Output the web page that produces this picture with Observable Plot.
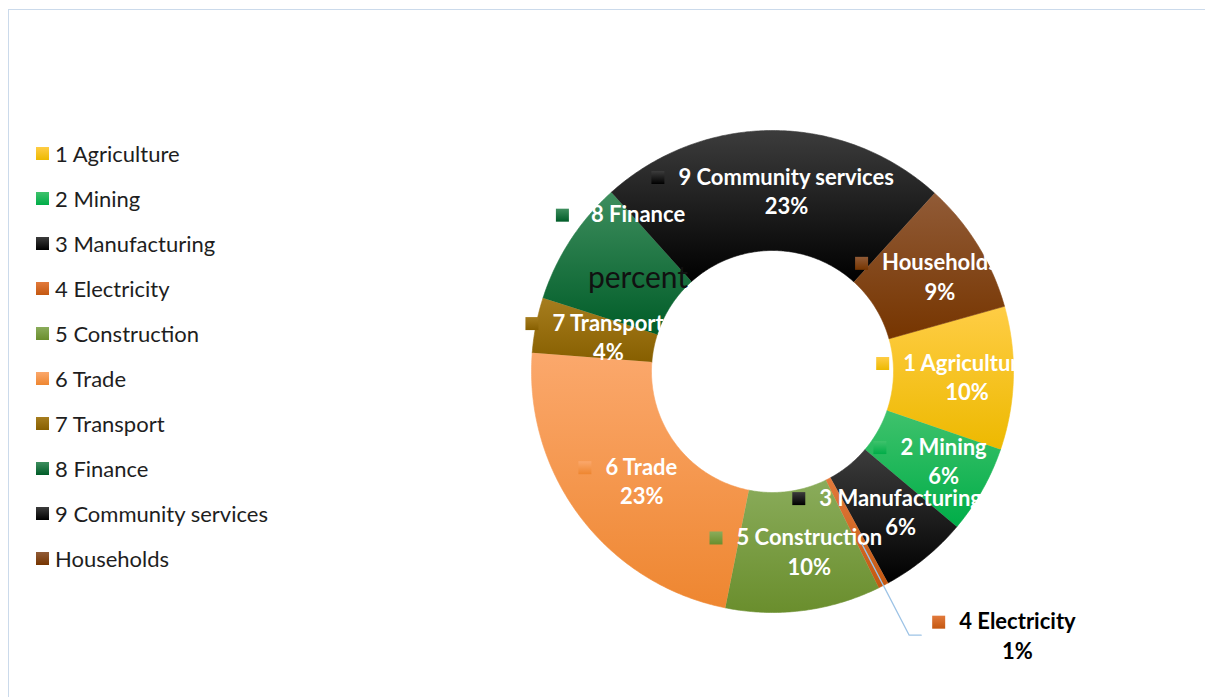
<!DOCTYPE html>
<html>
<head>
<meta charset="utf-8">
<script src="https://cdn.jsdelivr.net/npm/d3@7"></script>
<script src="https://cdn.jsdelivr.net/npm/@observablehq/plot@0.6"></script>
<style>
html, body { margin: 0; padding: 0; background: #fff; overflow: hidden; width: 1205px; height: 697px; }
#wrap { position: relative; width: 1205px; height: 697px; overflow: hidden; }
#frame { position: absolute; left: 8px; top: 9px; width: 1400px; height: 900px; border-left: 1px solid #cbdaeb; border-top: 1px solid #cbdaeb; }
#chart { position: absolute; left: 0; top: 0; }
#legend { position: absolute; left: 36px; top: 131px; font-family: Lato, "Open Sans", sans-serif; font-size: 22px; color: #1e1e1e; }
.item { display: flex; align-items: center; height: 45px; white-space: nowrap; }
.sw { width: 13px; height: 13px; margin-right: 6px; flex: none; }
</style>
</head>
<body>
<div id="wrap">
  <div id="frame"></div>
  <div id="chart"></div>
  <div id="legend"></div>
</div>
<script>
// ---- data ----
const categories = ["1 Agriculture", "2 Mining", "3 Manufacturing", "4 Electricity", "5 Construction",
  "6 Trade", "7 Transport", "8 Finance", "9 Community services", "Households"];
const shares = [9.6, 5.9, 5.9, 0.7, 10.4, 23.1, 3.7, 8.4, 23.4, 8.9];
const percentLabels = shares.map(v => `${Math.round(v)}%`);
const noteLabels = ["", "", "", "", "", "", "", "percent", "", ""];
const gradientTop = ["#FFCD45", "#3FC26C", "#3c3c3c", "#E27A3C", "#8AAC5B", "#FBA86C", "#A67D1E", "#3E8E5E", "#3c3c3c", "#915B37"];
const gradientBottom = ["#EDB900", "#00AD48", "#000000", "#C45811", "#6A8E2D", "#EE8630", "#875F00", "#005C28", "#000000", "#763500"];

// ---- geometry ----
const R = 241, r0 = 121, rLabel = (R + r0) / 2;
const firstSliceAngle = 74.3 * Math.PI / 180;
const arcs = d3.pie().sort(null).startAngle(firstSliceAngle).endAngle(firstSliceAngle + 2 * Math.PI)(shares);
const pt = (a, r) => ({x: r * Math.sin(a), y: -r * Math.cos(a)});

const slices = arcs.map((d, i) => {
  const n = Math.max(6, Math.ceil((d.endAngle - d.startAngle) / 0.01));
  const pts = [];
  for (let k = 0; k <= n; k++) pts.push(pt(d.startAngle + (d.endAngle - d.startAngle) * k / n, R));
  for (let k = n; k >= 0; k--) pts.push(pt(d.startAngle + (d.endAngle - d.startAngle) * k / n, r0));
  return pts;
});

const ctx = document.createElement("canvas").getContext("2d");
const nameFontSize = 22;
const tw = (t, f) => { ctx.font = f; return ctx.measureText(t).width; };
const nameFont = `bold ${nameFontSize}px Lato`;

const markers = [], names = [], pcts = [], notes = [];
const outNames = [], outPcts = [], leaders = [];
arcs.forEach((d, i) => {
  const m = (d.startAngle + d.endAngle) / 2;
  const w = tw(categories[i], nameFont);
  if (shares[i] < 2) {
    const p1 = pt(m, 195), p2 = pt(m, 297);
    const p3 = {x: p2.x + 12, y: p2.y};
    leaders.push(p1, p2, p3);
    markers.push({x: p3.x + 11 + 6.5, y: p3.y - 13, i});
    outNames.push({x: p3.x + 38, y: p3.y - 13, text: categories[i]});
    outPcts.push({x: p3.x + 38 + w / 2, y: p3.y + 17, text: percentLabels[i]});
    return;
  }
  const c = pt(m, rLabel);
  const hasNote = noteLabels[i] !== "";
  const gap = hasNote ? 22 : 14;
  const left = c.x - (13 + gap + w) / 2;
  const nameY = c.y + (hasNote ? -58 : -13);
  markers.push({x: left + 6.5, y: nameY, i});
  names.push({x: left + 13 + gap, y: nameY, text: categories[i]});
  if (hasNote) notes.push({x: left + 13 + gap + w / 2, y: c.y + 5, text: noteLabels[i]});
  else pcts.push({x: left + 13 + gap + w / 2, y: c.y + 16.5, text: percentLabels[i]});
});

const marks = [
  ...slices.map((pts, i) => Plot.line(pts, {x: "x", y: "y", fill: `url(#g${i})`, stroke: `url(#g${i})`, strokeWidth: 0.6, curve: "linear"})),
  Plot.text(names, {x: "x", y: "y", text: "text", textAnchor: "start", fill: "white", fontFamily: "Lato", fontWeight: "bold", fontSize: nameFontSize, ariaLabel: "ring-label"}),
  Plot.text(pcts, {x: "x", y: "y", text: "text", fill: "white", fontFamily: "Lato", fontWeight: "bold", fontSize: nameFontSize, ariaLabel: "ring-label"}),
  Plot.text(notes, {x: "x", y: "y", text: "text", fill: "#111", fontFamily: "Lato", fontSize: 30, ariaLabel: "ring-label"}),
  ...markers.map(d => Plot.dot([d], {x: "x", y: "y", symbol: "square", r: 13 / Math.sqrt(Math.PI), fill: `url(#g${d.i})`})),
  Plot.line(leaders, {x: "x", y: "y", stroke: "#9DC3E6", strokeWidth: 1.3}),
  Plot.text(outNames, {x: "x", y: "y", text: "text", textAnchor: "start", fill: "#000", fontFamily: "Lato", fontWeight: "bold", fontSize: nameFontSize}),
  Plot.text(outPcts, {x: "x", y: "y", text: "text", fill: "#000", fontFamily: "Lato", fontWeight: "bold", fontSize: nameFontSize})
];

const plot = Plot.plot({
  width: 1205, height: 697,
  marginLeft: 531, marginRight: 192, marginTop: 130, marginBottom: 85,
  x: {domain: [-R, R], axis: null},
  y: {domain: [R, -R], axis: null},
  style: {background: "transparent", overflow: "visible"},
  marks
});

// gradients + ring clip
const ns = "http://www.w3.org/2000/svg";
const defs = document.createElementNS(ns, "defs");
gradientTop.forEach((c, i) => {
  const g = document.createElementNS(ns, "linearGradient");
  g.setAttribute("id", `g${i}`);
  g.setAttribute("x1", "0"); g.setAttribute("y1", "0"); g.setAttribute("x2", "0"); g.setAttribute("y2", "1");
  [[0, c], [1, gradientBottom[i]]].forEach(([o, col]) => {
    const s = document.createElementNS(ns, "stop");
    s.setAttribute("offset", o); s.setAttribute("stop-color", col);
    g.appendChild(s);
  });
  defs.appendChild(g);
});
const cx = plot.scale("x").apply(0), cy = plot.scale("y").apply(0);
const circ = r => `M${cx - r},${cy}a${r},${r} 0 1,0 ${2 * r},0a${r},${r} 0 1,0 ${-2 * r},0Z`;
const clip = document.createElementNS(ns, "clipPath");
clip.setAttribute("id", "ring");
const cp = document.createElementNS(ns, "path");
cp.setAttribute("d", circ(R) + circ(r0));
cp.setAttribute("clip-rule", "evenodd");
clip.appendChild(cp);
defs.appendChild(clip);
plot.insertBefore(defs, plot.firstChild);
plot.querySelectorAll('g[aria-label="ring-label"]').forEach(g => g.setAttribute("clip-path", "url(#ring)"));
document.getElementById("chart").appendChild(plot);

// legend
const legend = document.getElementById("legend");
categories.forEach((c, i) => {
  const item = document.createElement("div");
  item.className = "item";
  const sw = document.createElement("div");
  sw.className = "sw";
  sw.style.background = `linear-gradient(${gradientTop[i]}, ${gradientBottom[i]})`;
  const t = document.createElement("span");
  t.textContent = c;
  item.appendChild(sw); item.appendChild(t);
  legend.appendChild(item);
});
</script>
</body>
</html>
